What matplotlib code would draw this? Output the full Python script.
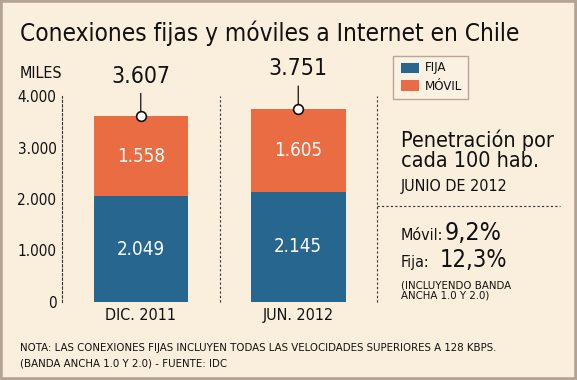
import matplotlib
matplotlib.use("Agg")
import matplotlib.pyplot as plt
from matplotlib.patches import Rectangle
from matplotlib.lines import Line2D

categories = ["DIC. 2011", "JUN. 2012"]
fija = [2049, 2145]
movil = [1558, 1605]
totals = [3607, 3751]
yticks = [0, 1000, 2000, 3000, 4000]
ytick_labels = ["0", "1.000", "2.000", "3.000", "4.000"]

BG = "#FAEEDC"
BLUE = "#26668F"
ORANGE = "#E96C43"
BORDER = "#B3A394"
FONT = ["DejaVu Sans"]
STRETCH = "condensed"

W, H = 577, 380
fig = plt.figure(figsize=(W / 100, H / 100), dpi=100)
fig.patch.set_facecolor(BG)
plt.rcParams['font.family'] = FONT


def fx(x):
    return x / W


def fy(y):
    return 1 - y / H


def ftext(x, y, s, **kw):
    kw.setdefault("fontstretch", STRETCH)
    kw.setdefault("color", "#111111")
    return fig.text(fx(x), fy(y), s, **kw)


# border
fig.add_artist(Rectangle((0, 0), 1, 1, transform=fig.transFigure, fill=False,
                         edgecolor=BORDER, linewidth=4))

# axes
ax = fig.add_axes([fx(62), fy(302), fx(377) - fx(62), fy(96) - fy(302)])
ax.set_facecolor("none")
ax.set_xlim(-0.5, 1.5)
ax.set_ylim(0, 4000)
for s in ax.spines.values():
    s.set_visible(False)
ax.spines["left"].set_visible(True)
ax.spines["left"].set_linestyle((0, (2, 2)))
ax.spines["left"].set_linewidth(0.8)
ax.spines["left"].set_color("#333333")
for xv in [0.5, 1.5]:
    ax.axvline(xv, color="#333333", lw=0.8, ls=(0, (2, 2)), clip_on=False)

x = list(range(len(categories)))
ax.bar(x, fija, width=0.6, color=BLUE, edgecolor="none")
ax.bar(x, movil, width=0.6, bottom=fija, color=ORANGE, edgecolor="none")

for i in x:
    ax.text(i, fija[i] / 2, f"{fija[i]:,}".replace(",", "."), color="white",
            ha="center", va="center", fontsize=13.5, fontstretch=STRETCH)
    ax.text(i, fija[i] + movil[i] / 2, f"{movil[i]:,}".replace(",", "."),
            color="white", ha="center", va="center", fontsize=13.5, fontstretch=STRETCH)
    ax.annotate(f"{totals[i]:,}".replace(",", "."), xy=(i, totals[i]),
                xytext=(0, 24), textcoords="offset points", ha="center",
                va="baseline", fontsize=16.5, fontstretch=STRETCH, color="#111111",
                arrowprops=dict(arrowstyle="-", lw=0.9, color="#111111",
                                shrinkA=2, shrinkB=0))
    ax.plot(i, totals[i], marker="o", ms=7, mfc="white", mec="#111111",
            mew=1.2, zorder=5)

ax.set_yticks(yticks)
ax.set_yticklabels(ytick_labels, fontsize=11, fontstretch=STRETCH, color="#111111")
ax.set_xticks(x)
ax.set_xticklabels(categories, fontsize=11.5, fontstretch=STRETCH, color="#111111")
ax.tick_params(axis="both", length=0)
ax.tick_params(axis="y", pad=4)
ax.tick_params(axis="x", pad=4)

# title and unit label
ftext(20, 33, "Conexiones fijas y móviles a Internet en Chile", fontsize=17.5,
      va="center", ha="left")
ftext(20, 73, "MILES", fontsize=11.5, va="center", ha="left")

# legend box
fig.add_artist(Rectangle((fx(393), fy(99)), fx(468) - fx(393), fy(56) - fy(99),
                         transform=fig.transFigure, facecolor="#FBF1E2",
                         edgecolor="#B9A696", linewidth=1))
fig.add_artist(Rectangle((fx(401), fy(73)), fx(419) - fx(401), fy(63) - fy(73),
                         transform=fig.transFigure, facecolor=BLUE, edgecolor="none"))
fig.add_artist(Rectangle((fx(401), fy(91)), fx(419) - fx(401), fy(80) - fy(91),
                         transform=fig.transFigure, facecolor=ORANGE, edgecolor="none"))
ftext(425, 68, "FIJA", fontsize=9.5, va="center", ha="left")
ftext(425, 86, "MÓVIL", fontsize=9.5, va="center", ha="left")

# right panel
ftext(401, 140, "Penetración por", fontsize=15.5, va="center", ha="left")
ftext(401, 161, "cada 100 hab.", fontsize=15.5, va="center", ha="left")
ftext(401, 187, "JUNIO DE 2012", fontsize=11.5, va="center", ha="left")
fig.add_artist(Line2D([fx(377), fx(560)], [fy(206), fy(206)], transform=fig.transFigure,
                      color="#333333", lw=0.8, ls=(0, (2, 2))))
ftext(401, 240, "Móvil:", fontsize=11.5, va="baseline", ha="left")
ftext(445, 240, "9,2%", fontsize=18, va="baseline", ha="left")
ftext(401, 267, "Fija:", fontsize=11.5, va="baseline", ha="left")
ftext(440, 267, "12,3%", fontsize=17, va="baseline", ha="left")
ftext(401, 285, "(INCLUYENDO BANDA", fontsize=8.2, va="center", ha="left")
ftext(401, 296, "ANCHA 1.0 Y 2.0)", fontsize=8.2, va="center", ha="left")

# footnote
ftext(20, 348, "NOTA: LAS CONEXIONES FIJAS INCLUYEN TODAS LAS VELOCIDADES SUPERIORES A 128 KBPS.",
      fontsize=8.2, va="center", ha="left")
ftext(20, 364, "(BANDA ANCHA 1.0 Y 2.0) - FUENTE: IDC", fontsize=8.2, va="center", ha="left")

fig.savefig("out.png", dpi=100, facecolor=BG)
